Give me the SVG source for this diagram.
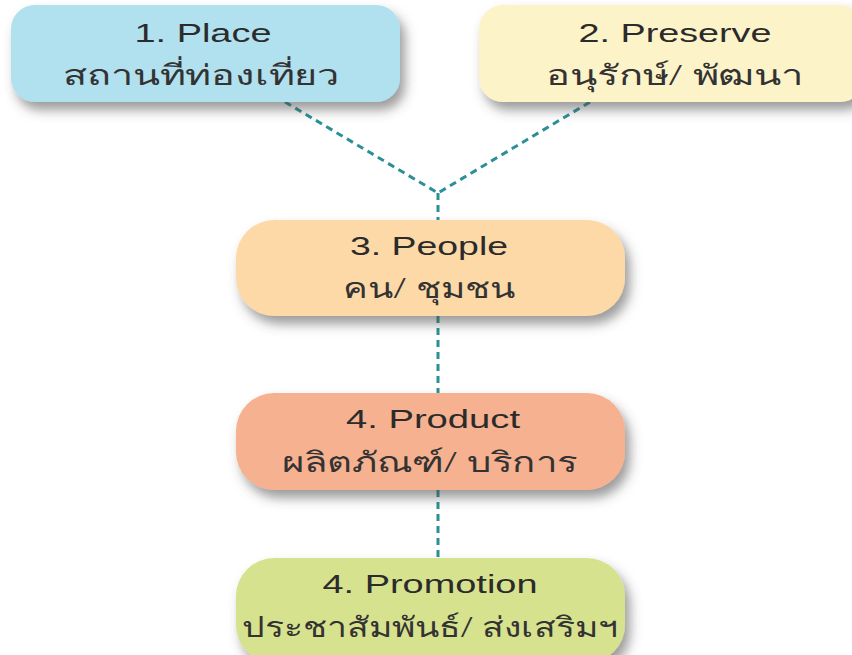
<svg xmlns="http://www.w3.org/2000/svg" width="852" height="655" viewBox="0 0 852 655">
<defs>
<filter id="sh" x="-10%" y="-20%" width="130%" height="170%">
<feDropShadow dx="5" dy="8" stdDeviation="6" flood-color="#4a4a4a" flood-opacity="0.55"/>
</filter>
<style>
.en{font-family:"Liberation Sans",Arial,sans-serif;font-size:25px;fill:#2b2b2b;text-anchor:middle}
.th{font-family:"Noto Sans","DejaVu Sans",sans-serif;font-size:28px;font-weight:300;fill:#333;text-anchor:middle}
.con{fill:none;stroke:#2a9096;stroke-width:3;stroke-dasharray:7 5}
.box{filter:url(#sh)}
</style>
</defs>
<rect width="852" height="655" fill="#fff"/>
<g id="connectors">
<path class="con" d="M285,102 L438,193 L590,102"/>
<path class="con" d="M438,193 L438,220"/>
<path class="con" d="M438,316 L438,393"/>
<path class="con" d="M438,490 L438,558"/>
</g>
<g id="node1">
<rect class="box" x="11" y="5" width="389" height="97" rx="24" fill="#b1e0ef"/>
<text class="en" x="203" y="42" textLength="137" lengthAdjust="spacingAndGlyphs">1. Place</text>
<text class="th" x="201" y="85" textLength="277" lengthAdjust="spacingAndGlyphs">สถานที่ท่องเที่ยว</text>
</g>
<g id="node2">
<rect class="box" x="479" y="5" width="385" height="97" rx="24" fill="#fdf3c9"/>
<text class="en" x="675" y="42" textLength="193" lengthAdjust="spacingAndGlyphs">2. Preserve</text>
<text class="th" x="675" y="85" textLength="258" lengthAdjust="spacingAndGlyphs">อนุรักษ์/ พัฒนา</text>
</g>
<g id="node3">
<rect class="box" x="236" y="220" width="389" height="96" rx="38" fill="#fdd9a7"/>
<text class="en" x="429" y="255" textLength="158" lengthAdjust="spacingAndGlyphs">3. People</text>
<text class="th" x="429" y="298" textLength="172" lengthAdjust="spacingAndGlyphs">คน/ ชุมชน</text>
</g>
<g id="node4">
<rect class="box" x="236" y="393" width="389" height="97" rx="38" fill="#f6b190"/>
<text class="en" x="433" y="428" textLength="174" lengthAdjust="spacingAndGlyphs">4. Product</text>
<text class="th" x="430" y="472" textLength="296" lengthAdjust="spacingAndGlyphs">ผลิตภัณฑ์/ บริการ</text>
</g>
<g id="node5">
<rect class="box" x="236" y="558" width="389" height="105" rx="38" fill="#d7e28f"/>
<text class="en" x="430" y="593" textLength="215" lengthAdjust="spacingAndGlyphs">4. Promotion</text>
<text class="th" x="430" y="637" textLength="376" lengthAdjust="spacingAndGlyphs">ประชาสัมพันธ์/ ส่งเสริมฯ</text>
</g>
</svg>
